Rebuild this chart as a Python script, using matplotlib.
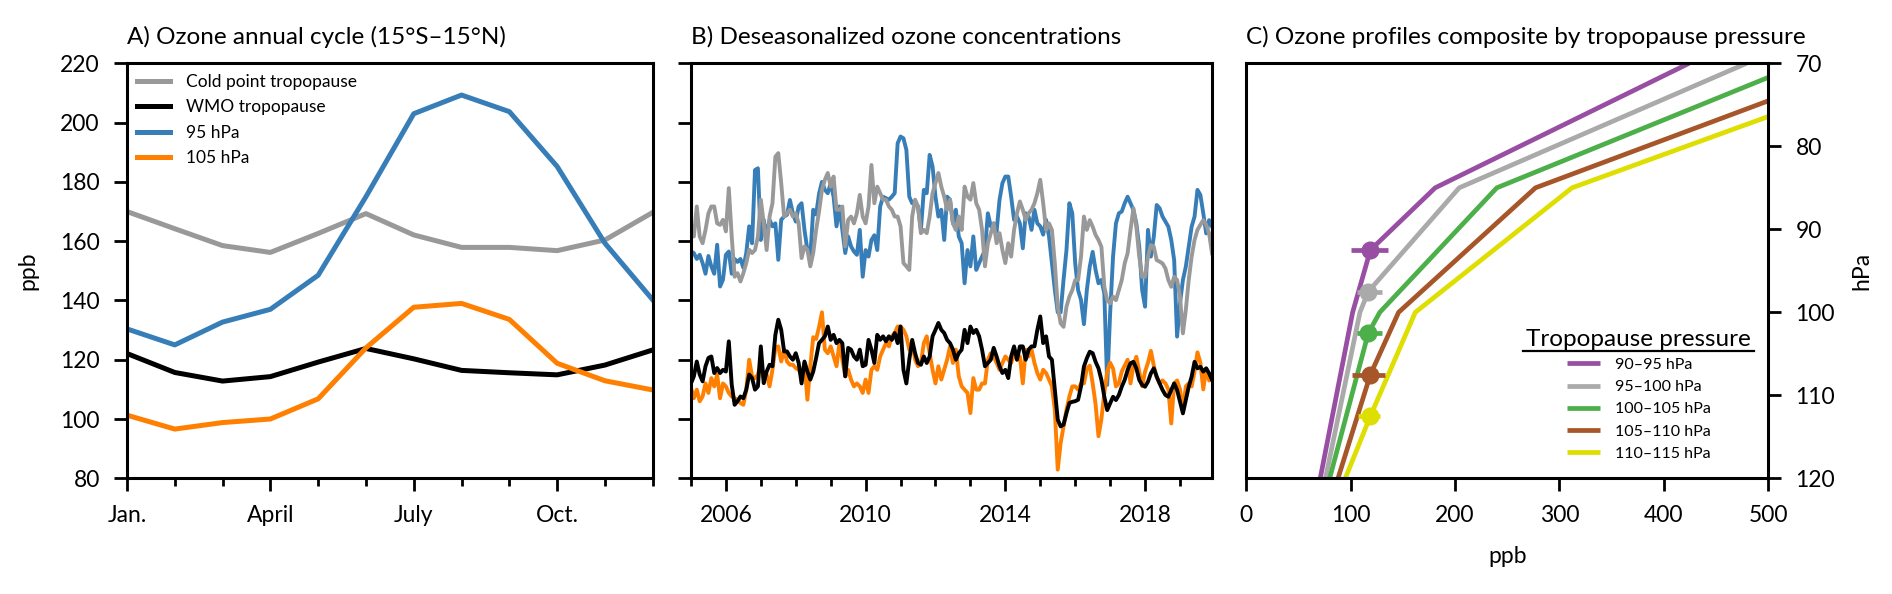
import numpy as np
import matplotlib
matplotlib.use("Agg")
import matplotlib.pyplot as plt
from matplotlib.lines import Line2D

plt.rcParams['font.family'] = ['Lato', 'DejaVu Sans']
plt.rcParams['font.size'] = 16.5

# ---- A) annual cycle (Jan..Dec)
month_labels = ['Jan.', 'April', 'July', 'Oct.']
month_label_pos = [0, 3, 6, 9]
cycle_cp = [170, 164.2, 158.5, 156.2, 162.6, 169.3, 162.1, 157.9, 157.9, 156.8, 160.4, 169.7]
cycle_wmo = [122.1, 115.7, 112.8, 114.3, 119.2, 123.8, 120.3, 116.4, 115.6, 114.9, 118.2, 123.3]
cycle_95 = [130.4, 125, 132.7, 137, 148.5, 175, 203, 209.3, 203.7, 185.2, 159.3, 140.2]
cycle_105 = [101.3, 96.6, 98.8, 100, 106.8, 124, 137.7, 139, 133.6, 118.8, 112.9, 109.8]

# ---- B) deseasonalized monthly series, Jan 2005 .. Dec 2019
ts_start = 2005
ts_95 = [
    156.5, 156, 154, 155.4, 152.6, 149, 155, 151.5, 149, 158.8,
    144.7, 147, 155.4, 156.5, 149, 154, 153, 154, 151, 156,
    165, 159.3, 184, 184.6, 160.4, 167.2, 161.6, 167.2, 165, 166,
    153.7, 167.2, 168.3, 168.9, 173.9, 169.4, 166.6, 171.7, 172.8, 163.8,
    157, 154.8, 170.6, 169, 176,
    180, 177.3, 176.2, 179.6, 175, 165, 171.7, 163.8, 156, 161.6,
    158.2, 156.5, 155.4, 163.8, 148, 157, 154.8, 160.4, 162, 157,
    171.7, 175, 174.5, 174, 175, 176.2, 193, 195.3, 194.7, 190.8,
    175, 172.8, 172.8, 171.7, 163.8, 177.3, 176.2, 189.1, 185.2, 175,
    168.3, 170.6, 160.4, 175, 174,
    166, 170.6, 161.6, 159.3, 145.8, 157, 151.5, 161.6, 150.3, 152.6,
    154.8, 157, 169.4, 165, 166, 163.3, 173.9, 179.6, 181.8, 181.8,
    175, 167.2, 168.3, 166, 157.6, 169.4, 168.3, 163.8, 170.6, 166,
    165, 162.2, 167.2, 161.6, 152.6, 143.6, 136, 136, 147, 157,
    172.8, 169.4, 152.5, 143.5, 140.1,
    132, 143.5, 151.4, 156.4, 150.3, 145.8, 146.9, 142.4, 111.5, 135.6,
    154.8, 166, 169.4, 170, 172.8, 175, 172.8, 170.5, 166, 158.1,
    143.5, 137.9, 163.8, 154.8, 161.5, 172.2, 171.1, 168.3, 166.6, 164.9,
    160.4, 153.6, 127.8, 139, 146.9, 151.4, 158.1, 164.9, 168.3, 177.3,
    175.6, 169.4, 162.6, 167.1, 164.9,
]
ts_cp = [
    163.8, 161.6, 171.7, 161.6, 159.3, 163.8, 169.4, 171.7, 171.7, 166,
    165.5, 167.2, 163.3, 177.9, 161.6, 148, 149.2, 146.4, 149.2, 152.6,
    157.1, 156, 157, 161.6, 174, 166, 157, 168.3, 172.8, 188.5,
    189.7, 179.6, 168.3, 169.4, 170.6, 168.3, 169.4, 166, 154.3, 158.2,
    157.1, 151.5, 156, 163.8, 170,
    177.3, 180.7, 183, 178.4, 181.8, 170.6, 170.6, 171.7, 158.2, 167.2,
    168.3, 166, 169.4, 175.6, 168.3, 166, 171.7, 185.7, 172.8, 178.4,
    176.2, 174, 174, 171.7, 170.6, 168.3, 168.3, 165, 152.6, 151.5,
    150.3, 168.3, 174, 171.7, 162.7, 163.8, 162.7, 168.3, 176.2, 179.6,
    183, 178.4, 175, 170.6, 174,
    166, 163.8, 168.3, 163.8, 178.4, 175, 174, 179.6, 172.8, 170.6,
    163.8, 151.5, 159.3, 162.7, 166, 159.3, 162.7, 157, 152.6, 159.3,
    154.8, 163.8, 169.4, 173.4, 170.6, 167.2, 169.4, 170.6, 172.8, 176.2,
    180.7, 172.8, 163.8, 166, 163.8,
    152.5, 137.9, 132.3, 131.1, 137.9, 141.3, 143.5, 146.9, 146.9, 154.8,
    168.3, 163.8, 167.1, 164.9, 162.1, 160.4, 158.1, 144.6, 140.1, 139,
    141.3, 140.1, 143.5, 146.9, 152.5, 155.9, 163.8, 171.1, 164.9, 154.8,
    148, 148, 154.8, 158.7, 158.1, 153.6, 153.1, 152.5, 150.8, 146.9,
    144.6, 148, 146.9, 141.3, 128.9, 136.8, 146.9, 154.8, 160.4, 163.8,
    165.5, 167.1, 165.5, 162.6, 155.9,
]
ts_wmo = [
    112, 114.4, 119.4, 115, 112.7, 117.8, 120.6, 121.1, 115.5, 117.2,
    115.5, 116.6, 116, 126.2, 111.6, 104.8, 106, 107.6, 107, 109.9,
    115, 113.8, 109.9, 111, 124.5, 112.1, 116, 118.3, 117.8, 128.4,
    133.5, 130.1, 122.8, 122.8, 121.1, 120, 122.2, 118.9, 112, 119.4,
    116, 113.3, 116, 120.6, 125.6,
    126.7, 127.9, 131.2, 126.7, 128.4, 125.6, 126.7, 125.6, 114.4, 124,
    123.4, 121.1, 120, 123.4, 117.8, 118.3, 126.7, 123.4, 118.9, 128.4,
    126.7, 127.9, 126.2, 127.9, 126.7, 129, 125.6, 131.2, 116.6, 112,
    120, 126.7, 122.2, 118.9, 118.3, 121.1, 118.9, 121.1, 127.9, 130.1,
    132.4, 130.1, 129, 126.7, 125.6,
    123.4, 120, 122.2, 123.4, 130.1, 125.6, 131.2, 129, 130.1, 127.9,
    123.4, 117.8, 118.9, 120, 124, 121.1, 117.8, 115.5, 116.6, 113.8,
    121.1, 124.5, 120, 124.5, 124.5, 120, 123.4, 124.5, 124.5, 130.1,
    134.6, 125.6, 127.9, 121.1, 120,
    109.9, 99.8, 97.5, 98.1, 102, 105.4, 105.8, 106, 106.5, 111,
    117.7, 120.5, 122.7, 122.2, 119.3, 117.1, 113.2, 107.5, 103, 105.3,
    107.5, 106.4, 108.1, 110.9, 113.2, 116.5, 118.8, 119.3, 117.1, 113.2,
    111.5, 110.9, 112.6, 115.4, 117.1, 114.3, 112, 109.8, 108.1, 107.5,
    109.8, 112, 109.8, 105.8, 101.9, 106.4, 110.9, 114.3, 119.3, 117.1,
    117.6, 116, 117.1, 115.4, 113.2,
]
ts_105 = [
    110.5, 107, 109.9, 106, 107.6, 112, 108.8, 113.8, 111, 115,
    107, 112, 111, 108.8, 107.6, 107, 106.5, 105.4, 104.8, 109.9,
    120, 114.4, 113.8, 115, 118.9, 113.3, 115, 111, 116.6, 123.9,
    124.5, 119.4, 123.4, 119.4, 118.3, 118.3, 117.2, 116.6, 115, 118.9,
    106.5, 117.8, 127.6, 127, 131,
    136, 123.4, 122.2, 124.5, 121.1, 117.8, 125.6, 120, 114.4, 116.6,
    113.3, 111, 112, 111, 108.8, 113.3, 108.8, 116.6, 117.8, 116.6,
    121.1, 123.4, 125.6, 124.5, 127.9, 129, 131.2, 131.2, 130.1, 127.9,
    123.4, 125.6, 120, 117.8, 118.9, 125.6, 127.9, 122.2, 116.6, 112,
    117.8, 113.3, 116.6, 120, 124.5,
    118.9, 123.4, 114.4, 111, 109.9, 108.8, 102, 113.8, 109.9, 109.9,
    112, 112, 120, 122.2, 121.1, 118.9, 116.6, 118.9, 121.1, 120,
    118.9, 122.2, 120, 121.1, 112, 123.4, 121.1, 123.4, 118.9, 115.5,
    113.3, 116.6, 115.5, 113.3, 111, 103.1, 82.9, 91.9, 97.5, 103.1,
    107.6, 111, 111, 109.9, 112,
    112, 117, 118, 112, 105, 94.2, 100, 108.8, 116, 119,
    117, 111, 112, 116, 118, 120, 112, 118, 121, 116,
    111, 116, 119, 123, 118, 114, 112, 113, 112, 110,
    98.5, 112, 113, 110, 103, 111, 112, 111, 116, 122.5,
    119, 110, 117, 113, 114,
]
year_labels = [2006, 2010, 2014, 2018]

# ---- C) composite profiles by tropopause pressure bin
bin_labels = ['90–95 hPa', '95–100 hPa', '100–105 hPa', '105–110 hPa', '110–115 hPa']
prof_p = [
    [120, 100, 92.5, 85, 70],
    [120, 100, 97.5, 85, 70],
    [120, 102.5, 100, 85, 70],
    [120, 107.5, 100, 85, 70],
    [120, 112.5, 100, 85, 70],
]
prof_o3 = [
    [71, 102, 119, 181, 424],
    [76, 109, 117, 204, 479],
    [80, 117, 128, 240, 533],
    [88, 119, 146, 277, 596],
    [95, 119, 162, 312, 640],
]
tp_p = [92.5, 97.5, 102.5, 107.5, 112.5]
tp_o3 = [119, 117, 117, 119, 119]
tp_o3_lo = [100, 106, 106, 101, 107]
tp_o3_hi = [136, 130, 130, 133, 128]

c_gray, c_blue, c_orange = '#999999', '#377eb8', '#ff7f00'
prof_colors = ['#984ea3', '#aaaaaa', '#4daf4a', '#a65628', '#dede00']

fig = plt.figure(figsize=(18.92, 5.94), dpi=100)
axA = fig.add_axes([0.0671, 0.1948, 0.2779, 0.6986])
axB = fig.add_axes([0.3652, 0.1948, 0.2754, 0.6986], sharey=axA)
axC = fig.add_axes([0.6586, 0.1948, 0.2761, 0.6986])

for ax in (axA, axB, axC):
    for s in ax.spines.values():
        s.set_linewidth(2.2)
    ax.tick_params(which='major', length=9.5, width=2, pad=10, labelsize=16.5)
    ax.tick_params(which='minor', length=6, width=2)

# A
mon = np.arange(len(cycle_cp))
axA.plot(mon, cycle_cp, color=c_gray, lw=3.6, label='Cold point tropopause')
axA.plot(mon, cycle_wmo, color='black', lw=3.6, label='WMO tropopause')
axA.plot(mon, cycle_95, color=c_blue, lw=3.6, label='95 hPa')
axA.plot(mon, cycle_105, color=c_orange, lw=3.6, label='105 hPa')
axA.set_xlim(0, 11)
axA.set_ylim(80, 220)
axA.set_yticks(np.arange(80, 221, 20))
axA.set_xticks(month_label_pos)
axA.set_xticklabels(month_labels)
axA.set_xticks(mon, minor=True)
axA.set_ylabel('ppb', labelpad=16)
axA.set_title('A) Ozone annual cycle (15°S–15°N)', loc='left', pad=14, fontsize=17.5)
axA.legend(loc='upper left', frameon=False, fontsize=12.5, handlelength=1.9,
           handletextpad=0.9, labelspacing=0.55, borderaxespad=0.2)

# B
t = ts_start + np.arange(len(ts_95)) / 12.0
axB.plot(t, ts_95, color=c_blue, lw=2.8)
axB.plot(t, ts_cp, color=c_gray, lw=2.8)
axB.plot(t, ts_105, color=c_orange, lw=2.8)
axB.plot(t, ts_wmo, color='black', lw=2.8)
axB.set_xlim(t[0], t[-1])
axB.set_xticks(year_labels)
axB.set_xticks(np.arange(ts_start, 2020), minor=True)
axB.tick_params(labelleft=False)
axB.set_title('B) Deseasonalized ozone concentrations', loc='left', pad=14, fontsize=17.5)

# C
for p, o3, col, lab in zip(prof_p, prof_o3, prof_colors, bin_labels):
    axC.plot(o3, p, color=col, lw=3.4, label=lab, solid_capstyle='butt')
for x, y, lo, hi, col in zip(tp_o3, tp_p, tp_o3_lo, tp_o3_hi, prof_colors):
    axC.errorbar([x], [y], xerr=[[x - lo], [hi - x]], fmt='o', color=col,
                 ms=12, elinewidth=3.4, capsize=0)
axC.set_xlim(0, 500)
axC.set_ylim(120, 70)
axC.set_xticks(np.arange(0, 501, 100))
axC.set_yticks(np.arange(70, 121, 10))
axC.yaxis.tick_right()
axC.yaxis.set_label_position('right')
axC.set_ylabel('hPa', labelpad=12)
axC.set_xlabel('ppb', labelpad=14)
axC.set_title('C) Ozone profiles composite by tropopause pressure', loc='left', pad=14, fontsize=17.5)
leg = axC.legend(loc='lower right', frameon=False, fontsize=11.5, title='Tropopause pressure',
                 title_fontsize=17.5, alignment='center', handlelength=2.1, handletextpad=0.9,
                 labelspacing=0.5, borderaxespad=0.7)

# underline the legend title
fig.canvas.draw()
bb = leg.get_title().get_window_extent()
inv = fig.transFigure.inverted()
(x0, y0), (x1, _) = inv.transform([(bb.x0 - 3, bb.y0 - 1), (bb.x1 + 3, bb.y0 - 1)])
fig.add_artist(Line2D([x0, x1], [y0, y0], transform=fig.transFigure, color='black', lw=1.6))

fig.savefig('out.png', dpi=100)
